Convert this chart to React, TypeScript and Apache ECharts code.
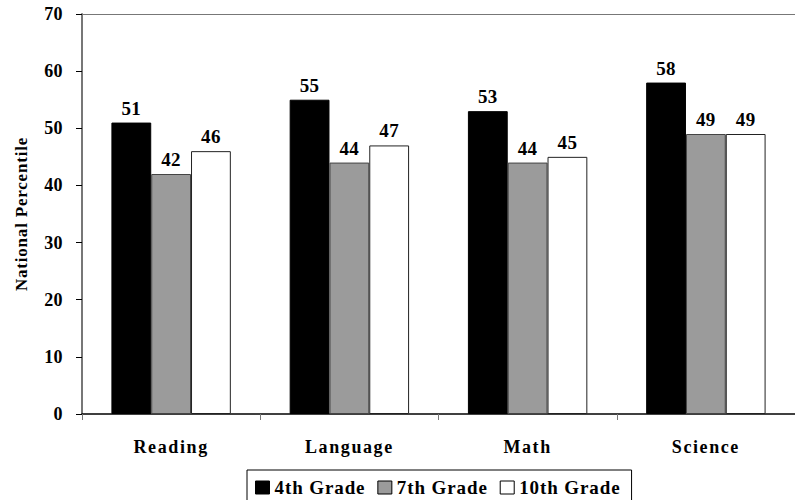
import React, { useEffect, useRef } from "react";
import * as echarts from "echarts";

const categories = ["Reading", "Language", "Math", "Science"];
const grade4 = [51, 55, 53, 58];
const grade7 = [42, 44, 44, 49];
const grade10 = [46, 47, 45, 49];
const seriesNames = ["4th Grade", "7th Grade", "10th Grade"];
const yTicks = { min: 0, max: 70, interval: 10 };
const yAxisTitle = "National Percentile";

const FONT = "Liberation Serif";

export default function App() {
  const ref = useRef<HTMLDivElement>(null);
  useEffect(() => {
    if (!ref.current) return;
    const chart = echarts.init(ref.current, undefined, { renderer: "svg" });
    const label = {
      show: true,
      position: "top" as const,
      distance: 5,
      fontFamily: FONT,
      fontWeight: "bold" as const,
      fontSize: 19,
      color: "#000",
    };
    const colors = ["#000000", "#9b9b9b", "#ffffff"];
    const borders = ["#000000", "#444444", "#222222"];
    const data = [grade4, grade7, grade10];
    chart.setOption({
      animation: false,
      textStyle: { fontFamily: FONT },
      grid: { left: 82, right: 0, top: 14, bottom: 86, containLabel: false },
      legend: {
        left: 247,
        top: 470,
        itemWidth: 14,
        itemHeight: 13,
        itemGap: 20,
        padding: [8, 20, 8, 8],
        borderColor: "#000",
        borderWidth: 1,
        borderRadius: 0,
        textStyle: { fontFamily: FONT, fontWeight: "bold", fontSize: 19, color: "#000" },
        data: seriesNames.map((n, i) => ({
          name: n,
          icon: "rect",
          itemStyle: { color: colors[i], borderColor: "#000", borderWidth: 1 },
        })),
      },
      xAxis: [
        {
          type: "category",
          data: categories,
          axisLine: { show: true, lineStyle: { color: "#000", width: 1.5 } },
          axisTick: { show: true, length: 6, lineStyle: { color: "#777" } },
          axisLabel: { fontFamily: FONT, fontWeight: "bold", fontSize: 18, color: "#000", margin: 24 },
        },
        {
          type: "category",
          position: "top",
          data: categories,
          axisLine: { show: true, lineStyle: { color: "#777", width: 1 } },
          axisTick: { show: false },
          axisLabel: { show: false },
        },
      ],
      yAxis: {
        type: "value",
        min: yTicks.min,
        max: yTicks.max,
        interval: yTicks.interval,
        name: yAxisTitle,
        nameLocation: "middle",
        nameGap: 52,
        nameTextStyle: { fontFamily: FONT, fontWeight: "bold", fontSize: 17, color: "#000" },
        axisLine: { show: true, lineStyle: { color: "#777", width: 2 } },
        axisTick: { show: true, length: 6, lineStyle: { color: "#000" } },
        axisLabel: { fontFamily: FONT, fontWeight: "bold", fontSize: 18, color: "#000", margin: 19 },
        splitLine: { show: false },
      },
      series: data.map((d, i) => ({
        type: "bar",
        name: seriesNames[i],
        data: d,
        barGap: "0%",
        barCategoryGap: "33%",
        itemStyle: { color: colors[i], borderColor: borders[i], borderWidth: 1 },
        label,
      })),
    });
    // widen letter spacing to match the reference's spaced-out typography
    const texts = ref.current.querySelectorAll("text");
    texts.forEach((t) => {
      const s = (t.textContent || "").trim();
      let sp = 0;
      if (categories.includes(s)) sp = 1.6;
      else if (seriesNames.includes(s)) sp = 0.9;
      else if (s === yAxisTitle) sp = 0.8;
      else if (/^\d+$/.test(s)) sp = 0.4;
      if (sp) t.setAttribute("letter-spacing", String(sp));
    });
    return () => chart.dispose();
  }, []);
  return <div ref={ref} style={{ width: 795, height: 500, position: "absolute", left: 0, top: 0 }} />;
}
